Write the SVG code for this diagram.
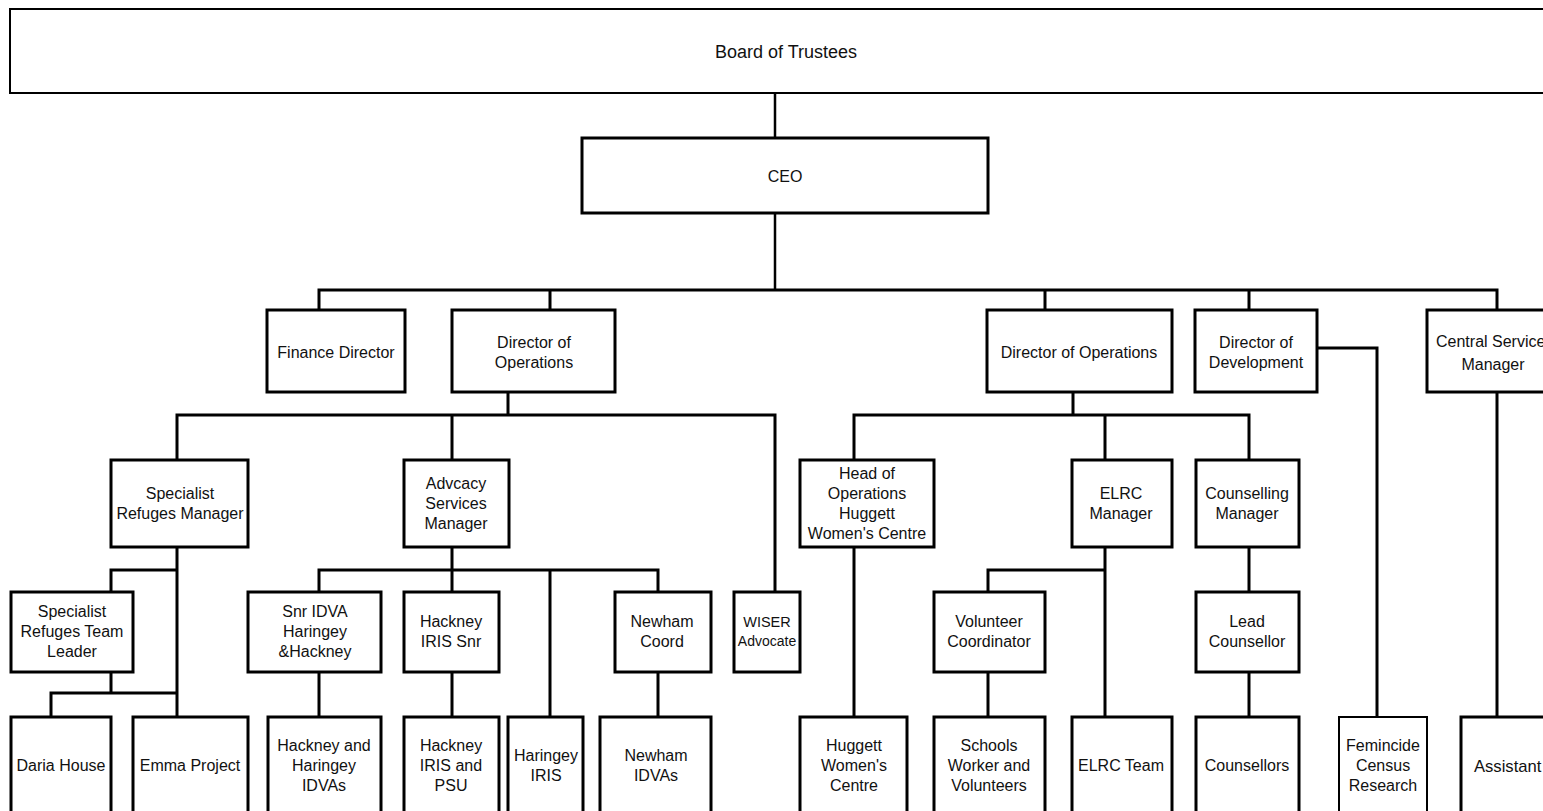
<svg xmlns="http://www.w3.org/2000/svg" width="1543" height="811" viewBox="0 0 1543 811">
<style>
.b{fill:#fff;stroke:#000;stroke-width:3}
.t{font-family:"Liberation Sans",Arial,sans-serif;font-size:16px;fill:#111;text-anchor:middle}
.c{fill:none;stroke:#000;stroke-width:3}
</style>
<rect width="1543" height="811" fill="#fff"/>
<g id="connectors">
<path class="c" style="stroke-width:2.5" d="M775 93V138M775 213V290"/>
<path class="c" d="M319 310V290H1497V310M550 290V310M1045 290V310M1249 290V310"/>
<path class="c" d="M508 392V415M177 460V415H775V592M452 415V460"/>
<path class="c" d="M177 547V717M177 570H111V592M111 672V693H51V717M111 693H177"/>
<path class="c" d="M452 547V592M319 592V570H658V592M550 570V717M319 672V717M452 672V717M658 672V717"/>
<path class="c" d="M1073 392V415M854 460V415H1249V460M1105 415V460"/>
<path class="c" d="M854 547V717M1105 547V717M1105 570H988V592M988 672V717M1249 547V592M1249 672V717"/>
<path class="c" d="M1317 348H1377V717M1497 392V717"/>
</g>
<g id="board"><rect class="b" style="stroke-width:2" x="10" y="9" width="1545" height="84"/><text class="t" style="font-size:18px" x="786" y="58">Board of Trustees</text></g>
<g id="ceo"><rect class="b" x="582" y="138" width="406" height="75"/><text class="t" x="785" y="182">CEO</text></g>
<g id="finance"><rect class="b" x="267" y="310" width="138" height="82"/><text class="t" x="336" y="358">Finance Director</text></g>
<g id="dirops1"><rect class="b" x="452" y="310" width="163" height="82"/><text class="t" x="534" y="348">Director of</text><text class="t" x="534" y="368">Operations</text></g>
<g id="dirops2"><rect class="b" x="987" y="310" width="185" height="82"/><text class="t" x="1079" y="358">Director of Operations</text></g>
<g id="dirdev"><rect class="b" x="1195" y="310" width="122" height="82"/><text class="t" x="1256" y="348">Director of</text><text class="t" x="1256" y="368">Development</text></g>
<g id="central"><rect class="b" x="1427" y="310" width="130" height="82"/><text class="t" style="text-anchor:start" x="1436" y="347">Central Service</text><text class="t" x="1493" y="370">Manager</text></g>
<g id="srm"><rect class="b" x="111" y="460" width="137" height="87"/><text class="t" x="180" y="499">Specialist</text><text class="t" x="180" y="519">Refuges Manager</text></g>
<g id="asm"><rect class="b" x="404" y="460" width="105" height="87"/><text class="t" x="456" y="489">Advcacy</text><text class="t" x="456" y="509">Services</text><text class="t" x="456" y="529">Manager</text></g>
<g id="hoo"><rect class="b" x="800" y="460" width="134" height="87"/><text class="t" x="867" y="479">Head of</text><text class="t" x="867" y="499">Operations</text><text class="t" x="867" y="519">Huggett</text><text class="t" x="867" y="539">Women's Centre</text></g>
<g id="elrcm"><rect class="b" x="1072" y="460" width="100" height="87"/><text class="t" x="1121" y="499">ELRC</text><text class="t" x="1121" y="519">Manager</text></g>
<g id="cm"><rect class="b" x="1196" y="460" width="103" height="87"/><text class="t" x="1247" y="499">Counselling</text><text class="t" x="1247" y="519">Manager</text></g>
<g id="srtl"><rect class="b" x="11" y="592" width="122" height="80"/><text class="t" x="72" y="617">Specialist</text><text class="t" x="72" y="637">Refuges Team</text><text class="t" x="72" y="657">Leader</text></g>
<g id="snridva"><rect class="b" x="248" y="592" width="133" height="80"/><text class="t" x="315" y="617">Snr IDVA</text><text class="t" x="315" y="637">Haringey</text><text class="t" x="315" y="657">&amp;Hackney</text></g>
<g id="hisnr"><rect class="b" x="404" y="592" width="95" height="80"/><text class="t" x="451" y="627">Hackney</text><text class="t" x="451" y="647">IRIS Snr</text></g>
<g id="newcoord"><rect class="b" x="615" y="592" width="96" height="80"/><text class="t" x="662" y="627">Newham</text><text class="t" x="662" y="647">Coord</text></g>
<g id="wiser"><rect class="b" x="734" y="592" width="66" height="80"/><text class="t" style="font-size:14.5px" x="767" y="627">WISER</text><text class="t" style="font-size:14px" x="767" y="646">Advocate</text></g>
<g id="volc"><rect class="b" x="934" y="592" width="111" height="80"/><text class="t" x="989" y="627">Volunteer</text><text class="t" x="989" y="647">Coordinator</text></g>
<g id="leadc"><rect class="b" x="1196" y="592" width="103" height="80"/><text class="t" x="1247" y="627">Lead</text><text class="t" x="1247" y="647">Counsellor</text></g>
<g id="daria"><rect class="b" x="11" y="717" width="100" height="105"/><text class="t" x="61" y="771">Daria House</text></g>
<g id="emma"><rect class="b" x="133" y="717" width="115" height="105"/><text class="t" x="190" y="771">Emma Project</text></g>
<g id="hhidva"><rect class="b" x="268" y="717" width="113" height="105"/><text class="t" x="324" y="751">Hackney and</text><text class="t" x="324" y="771">Haringey</text><text class="t" x="324" y="791">IDVAs</text></g>
<g id="hipsu"><rect class="b" x="404" y="717" width="95" height="105"/><text class="t" x="451" y="751">Hackney</text><text class="t" x="451" y="771">IRIS and</text><text class="t" x="451" y="791">PSU</text></g>
<g id="hiris"><rect class="b" x="508" y="717" width="75" height="105"/><text class="t" x="546" y="761">Haringey</text><text class="t" x="546" y="781">IRIS</text></g>
<g id="nidva"><rect class="b" x="600" y="717" width="111" height="105"/><text class="t" x="656" y="761">Newham</text><text class="t" x="656" y="781">IDVAs</text></g>
<g id="hwc"><rect class="b" x="800" y="717" width="107" height="105"/><text class="t" x="854" y="751">Huggett</text><text class="t" x="854" y="771">Women's</text><text class="t" x="854" y="791">Centre</text></g>
<g id="swv"><rect class="b" x="934" y="717" width="111" height="105"/><text class="t" x="989" y="751">Schools</text><text class="t" x="989" y="771">Worker and</text><text class="t" x="989" y="791">Volunteers</text></g>
<g id="elrct"><rect class="b" x="1072" y="717" width="100" height="105"/><text class="t" x="1121" y="771">ELRC Team</text></g>
<g id="couns"><rect class="b" x="1196" y="717" width="103" height="105"/><text class="t" x="1247" y="771">Counsellors</text></g>
<g id="fem"><rect class="b" style="stroke-width:2" x="1339" y="717" width="88" height="105"/><text class="t" x="1383" y="751">Femincide</text><text class="t" x="1383" y="771">Census</text><text class="t" x="1383" y="791">Research</text></g>
<g id="assistant"><rect class="b" x="1461" y="717" width="100" height="105"/><text class="t" style="text-anchor:start;font-size:16.6px" x="1474" y="772">Assistant</text></g>
</svg>
